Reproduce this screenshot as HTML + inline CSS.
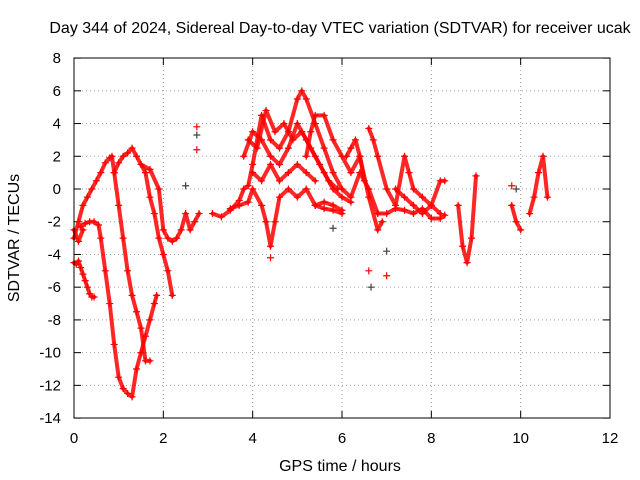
<!DOCTYPE html>
<html><head><meta charset="utf-8"><style>
body{margin:0;background:#fff;}
svg{display:block;font-family:"Liberation Sans",sans-serif;}
</style></head><body>
<svg id="chart" width="640" height="480">
<rect width="640" height="480" fill="#fff"/>
<text x="340" y="33" font-size="16" text-anchor="middle">Day 344 of 2024, Sidereal Day-to-day VTEC variation (SDTVAR) for receiver ucak</text>
<text x="340" y="471" font-size="16" text-anchor="middle">GPS time / hours</text>
<text transform="translate(19,238) rotate(-90)" font-size="16" text-anchor="middle">SDTVAR / TECUs</text>
<g id="grid"></g><g id="ticks"></g><g id="marks"></g>
<rect x="74" y="58" width="536" height="360" fill="none" stroke="#000"/>
</svg>
<script>
const xTicks=[0,2,4,6,8,10,12];
const yTicks=[8,6,4,2,0,-2,-4,-6,-8,-10,-12,-14];
const trackT=[
[0,0.05,0.1,0.15,0.2,0.25,0.3,0.35,0.4,0.45],
[0.15,0.25,0.35,0.45,0.55,0.6,0.7,0.8,0.9,1.0,1.1,1.2,1.3,1.4,1.5,1.6,1.7,1.8,1.85],
[0,0.1,0.2,0.3,0.4,0.5,0.6,0.7,0.8,0.85,0.9,1.0,1.1,1.2,1.3,1.4,1.5,1.6,1.7],
[0.9,1.0,1.1,1.2,1.3,1.4,1.5,1.6,1.7,1.8,1.9,2.0,2.1,2.2],
[1.5,1.7,1.9,2.0,2.1,2.2,2.3,2.4,2.5,2.6,2.7,2.8],
[3.1,3.3,3.5,3.7,3.8,3.9,4.0,4.2,4.4,4.6,4.8,5.0,5.1,5.2,5.4,5.6,5.8,6.0,6.2,6.4,6.6,6.8],
[3.8,4.0,4.2,4.4,4.6,4.8,5.0,5.2,5.4,5.6,5.8,6.0,6.2],
[3.5,3.7,3.9,4.0,4.2,4.3,4.4,4.5,4.6,4.8,5.0,5.2,5.4,5.6,5.8,6.0],
[5.2,5.3,5.4,5.6,5.8,6.0,6.2,6.4,6.6,6.8,6.9],
[6.6,6.7,6.8,7.0,7.2,7.4,7.5,7.6,7.8,8.0,8.2,8.3],
[6.8,7.0,7.2,7.4,7.6,7.8,8.0,8.2,8.3],
[8.6,8.7,8.8,8.9,9.0],
[9.8,9.9,10.0],
[10.2,10.3,10.4,10.5,10.6],
[4.0,4.2,4.4,4.6,4.8,5.0,5.2,5.4],
[3.9,4.1,4.3,4.5,4.7,4.9,5.1,5.3,5.5,5.7,5.9],
[5.4,5.6,5.8,6.0],
[6.1,6.2,6.3,6.4,6.5],
[7.2,7.4,7.6,7.8,8.0,8.2],
[0,0.1,0.2]
];
const trackV=[
[-4.5,-4.6,-4.4,-4.8,-5.2,-5.6,-6.0,-6.4,-6.6,-6.6],
[-2.3,-2.1,-2.0,-2.0,-2.2,-3.0,-5.0,-7.0,-9.5,-11.5,-12.2,-12.5,-12.7,-11.0,-10.0,-9.0,-8.0,-7.0,-6.5],
[-3.0,-2.0,-1.0,-0.5,0.0,0.5,1.0,1.6,1.9,2.0,1.0,-1.0,-3.0,-5.0,-6.5,-7.5,-8.5,-10.5,-10.5],
[1.0,1.6,2.0,2.2,2.5,2.0,1.5,1.0,-0.5,-1.5,-3.0,-4.0,-5.0,-6.5],
[1.5,1.2,0.0,-2.5,-3.0,-3.2,-3.0,-2.5,-1.5,-2.5,-2.0,-1.5],
[-1.5,-1.7,-1.3,-0.7,0.0,0.2,1.5,4.5,3.0,2.5,3.5,5.5,6.0,5.5,4.0,2.5,1.0,0.0,-0.5,1.0,0.0,-1.5],
[2.0,3.5,3.0,2.0,1.5,2.5,4.0,3.0,2.0,1.0,0.0,-0.5,-0.8],
[-1.2,-1.0,-0.8,0.0,-1.0,-2.0,-3.5,-2.0,-0.5,0.0,-0.5,0.0,-1.0,-1.2,-1.3,-1.5],
[2.0,3.5,4.5,4.5,3.0,2.0,1.0,2.0,-0.5,-2.5,-2.0],
[3.7,3.0,2.0,0.0,-1.0,2.0,1.0,0.0,-0.5,-1.0,0.5,0.5],
[-1.5,-1.5,-1.2,-1.3,-1.5,-1.2,-1.8,-1.8,-1.6],
[-1.0,-3.5,-4.5,-3.0,0.8],
[-1.0,-2.0,-2.5],
[-1.5,-0.5,1.0,2.0,-0.5],
[1.0,0.5,1.5,0.5,1.0,1.5,1.0,0.5],
[3.0,2.5,4.8,3.5,4.0,3.0,3.5,2.5,1.5,0.5,0.0],
[-1.0,-0.8,-1.0,-1.3],
[2.0,2.5,3.0,2.0,0.5],
[0.0,-0.5,-1.0,-1.5,-1.0,-1.5],
[-2.5,-3.2,-2.5]
];
const extraT=[2.75,2.75,2.75,2.5,6.6,6.65,7.0,7.0,9.8,9.9,4.4,5.8];
const extraV=[3.8,3.3,2.4,0.2,-5.0,-6.0,-5.3,-3.8,0.2,0.0,-4.2,-2.4];
const X=t=>74+t*536/12, Y=v=>189-v*360/22;
const NS="http://www.w3.org/2000/svg";
const grid=document.getElementById('grid'),ticks=document.getElementById('ticks'),marks=document.getElementById('marks');
function mk(tag,at,p){const e=document.createElementNS(NS,tag);for(const k in at)e.setAttribute(k,at[k]);p.appendChild(e);return e;}
xTicks.forEach(t=>{const x=X(t);
 if(t>0&&t<12){const g=mk('line',{x1:x,x2:x,y1:58,y2:418,stroke:'#a0a0a0','stroke-dasharray':'1,3'},grid);
 
 }
 const l=mk('line',{x1:x,x2:x,y1:418,y2:411,stroke:'#000'},ticks);
 
 
 const l2=mk('line',{x1:x,x2:x,y1:58,y2:65,stroke:'#000'},ticks);
 
 
 const tx=mk('text',{x:x,y:443,'font-size':15,'text-anchor':'middle'},ticks);tx.textContent=t;
 
 });
yTicks.forEach(v=>{const y=Y(v);
 if(v<8&&v>-14){const g=mk('line',{x1:74,x2:610,y1:y,y2:y,stroke:'#a0a0a0','stroke-dasharray':'1,3'},grid);
 
 }
 const l=mk('line',{x1:74,x2:81,y1:y,y2:y,stroke:'#000'},ticks);
 
 
 const l2=mk('line',{x1:603,x2:610,y1:y,y2:y,stroke:'#000'},ticks);
 
 
 const tx=mk('text',{x:61,y:y+5,'font-size':15,'text-anchor':'end'},ticks);tx.textContent=v;
 
 });
function plus(t,v,c){const x=X(t),y=Y(v);
 const p=mk('path',{d:`M${x-3.5},${y}h7M${x},${y-3.5}v7`,stroke:c,'stroke-width':1.2,fill:'none'},marks);
 
 }
trackT.forEach((ts,i)=>{const vs=trackV[i];
 const pl=mk('polyline',{points:ts.map((t,j)=>X(t)+','+Y(vs[j])).join(' '),fill:'none',stroke:'#ff0000','stroke-width':4,'stroke-linejoin':'round','stroke-linecap':'round',opacity:0.85},marks);
 
 
 ts.forEach((t,j)=>plus(t,vs[j],'#ff0000'));});
extraT.forEach((t,i)=>plus(t,extraV[i],i%2?'#404040':'#ff0000'));
</script>
</body></html>
